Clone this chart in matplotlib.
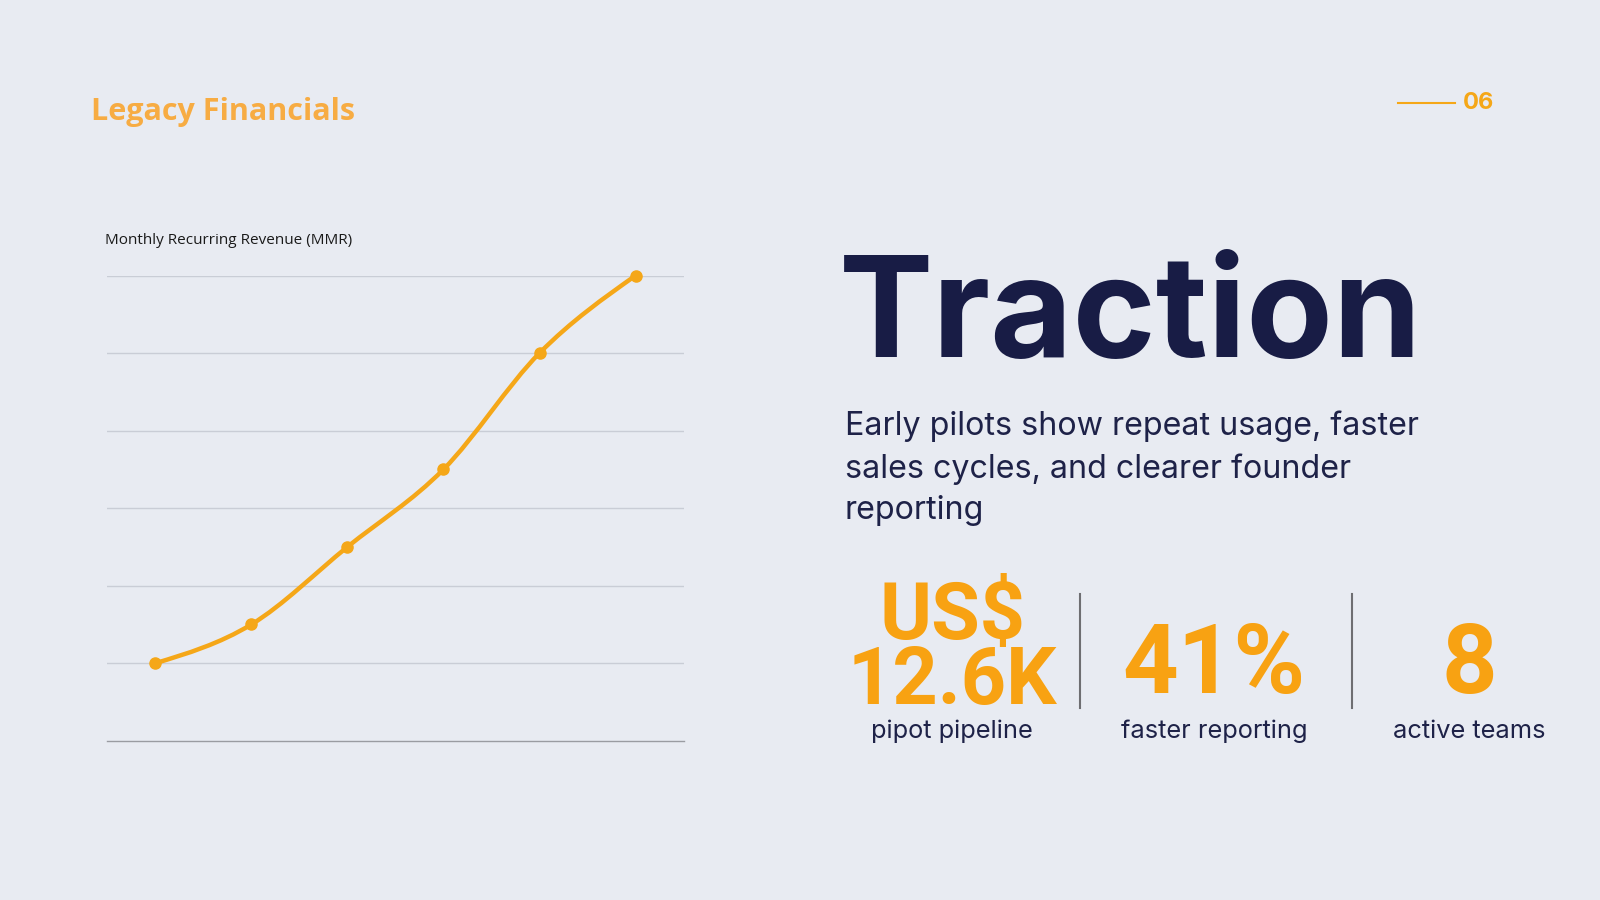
import numpy as np
import matplotlib
matplotlib.use('Agg')
import matplotlib.pyplot as plt
from matplotlib.path import Path
from matplotlib.patches import PathPatch
from matplotlib.lines import Line2D

# chart data
months = ['M1', 'M2', 'M3', 'M4', 'M5', 'M6']
mrr = [2000, 3000, 5000, 7000, 10000, 12000]
grid_vals = [2000, 4000, 6000, 8000, 10000, 12000]

title = 'Traction'
brand = 'Legacy Financials'
page = '06'
chart_title = 'Monthly Recurring Revenue (MMR)'
body = 'Early pilots show repeat usage, faster\nsales cycles, and clearer founder\nreporting'
stat_values = ['US$\n12.6K', '41%', '8']
stat_labels = ['pipot pipeline', 'faster reporting', 'active teams']

BG = '#E8EBF2'
ORANGE = '#F5A718'
NAVY = '#181C45'

W, H = 1568.0, 882.0
def fx(x):
    return x / W
def fy(y):
    return 1 - y / H


def monotone_path(xs, ys):
    # d3 style monotoneX curve as bezier segments
    xs = np.asarray(xs, float)
    ys = np.asarray(ys, float)
    n = len(xs)
    h = np.diff(xs)
    s = np.diff(ys) / h
    t = np.zeros(n)
    for i in range(1, n - 1):
        p = (s[i - 1] * h[i] + s[i] * h[i - 1]) / (h[i - 1] + h[i])
        t[i] = (np.sign(s[i - 1]) + np.sign(s[i])) * min(abs(s[i - 1]), abs(s[i]), 0.5 * abs(p))
    t[0] = (3 * s[0] - t[1]) / 2
    t[-1] = (3 * s[-1] - t[-2]) / 2
    verts = [(xs[0], ys[0])]
    codes = [Path.MOVETO]
    for i in range(n - 1):
        dx = h[i] / 3
        verts += [(xs[i] + dx, ys[i] + dx * t[i]),
                  (xs[i + 1] - dx, ys[i + 1] - dx * t[i + 1]),
                  (xs[i + 1], ys[i + 1])]
        codes += [Path.CURVE4] * 3
    return Path(verts, codes)


fig = plt.figure(figsize=(16, 9), dpi=100)
fig.patch.set_facecolor(BG)

# line chart
ax = fig.add_axes([fx(105), fy(726), fx(670) - fx(105), fy(270) - fy(726)])
ax.set_facecolor(BG)
x = np.arange(len(months))
ax.set_xlim(-0.5, len(months) - 0.5)
ax.set_ylim(0, 12000)
for g in grid_vals:
    ax.axhline(g, color='#C9CDD6', lw=1.0, zorder=1)
for sp in ['top', 'right', 'left']:
    ax.spines[sp].set_visible(False)
ax.spines['bottom'].set_color('#9A9CA2')
ax.spines['bottom'].set_linewidth(1.0)
ax.set_xticks([])
ax.set_yticks([])
curve = PathPatch(monotone_path(x, mrr), facecolor='none', edgecolor=ORANGE, lw=3.2,
                  capstyle='round', zorder=3, clip_on=False)
ax.add_patch(curve)
ax.plot(x, mrr, 'o', color=ORANGE, ms=8, zorder=4, clip_on=False)

fig.text(fx(103), fy(236), chart_title, fontsize=11, color='#1A1A1A',
         family=['Open Sans', 'DejaVu Sans'], va='center', ha='left')

# header
fig.text(fx(89), fy(110), brand, fontsize=22, color='#F7AC43', fontweight='bold',
         family=['Open Sans', 'DejaVu Sans'], va='center', ha='left')
fig.add_artist(Line2D([fx(1370), fx(1426)], [fy(101), fy(101)], color=ORANGE, lw=1.5))
fig.text(fx(1434), fy(101), page, fontsize=17, color=ORANGE, fontweight='bold',
         family=['Inter', 'DejaVu Sans'], va='center', ha='left')

# title and body
fig.text(fx(822), fy(314), title, fontsize=102, color=NAVY, fontweight='bold',
         family=['Inter', 'DejaVu Sans'], va='center', ha='left')
fig.text(fx(828), fy(459), body, fontsize=23.2, color='#1E2248', linespacing=1.45,
         family=['Inter', 'DejaVu Sans'], va='center', ha='left')

# stats
centers = [933, 1190, 1440]
fig.text(fx(centers[0]), fy(637), stat_values[0], fontsize=57, color='#F8A212', fontweight='bold',
         family=['Roboto', 'DejaVu Sans'], va='center', ha='center', linespacing=0.82)
fig.text(fx(centers[1]), fy(654), stat_values[1], fontsize=70, color='#F8A212', fontweight='bold',
         family=['Roboto', 'DejaVu Sans'], va='center', ha='center')
fig.text(fx(centers[2]), fy(654), stat_values[2], fontsize=70, color='#F8A212', fontweight='bold',
         family=['Roboto', 'DejaVu Sans'], va='center', ha='center')
for c, lab in zip(centers, stat_labels):
    fig.text(fx(c), fy(717), lab, fontsize=18.3, color='#1E2248',
             family=['Inter', 'DejaVu Sans'], va='center', ha='center')
for dxp in [1058, 1325]:
    fig.add_artist(Line2D([fx(dxp), fx(dxp)], [fy(582), fy(694)], color='#6E6E72', lw=1.5))

fig.savefig('out.png', dpi=100, facecolor=BG)
